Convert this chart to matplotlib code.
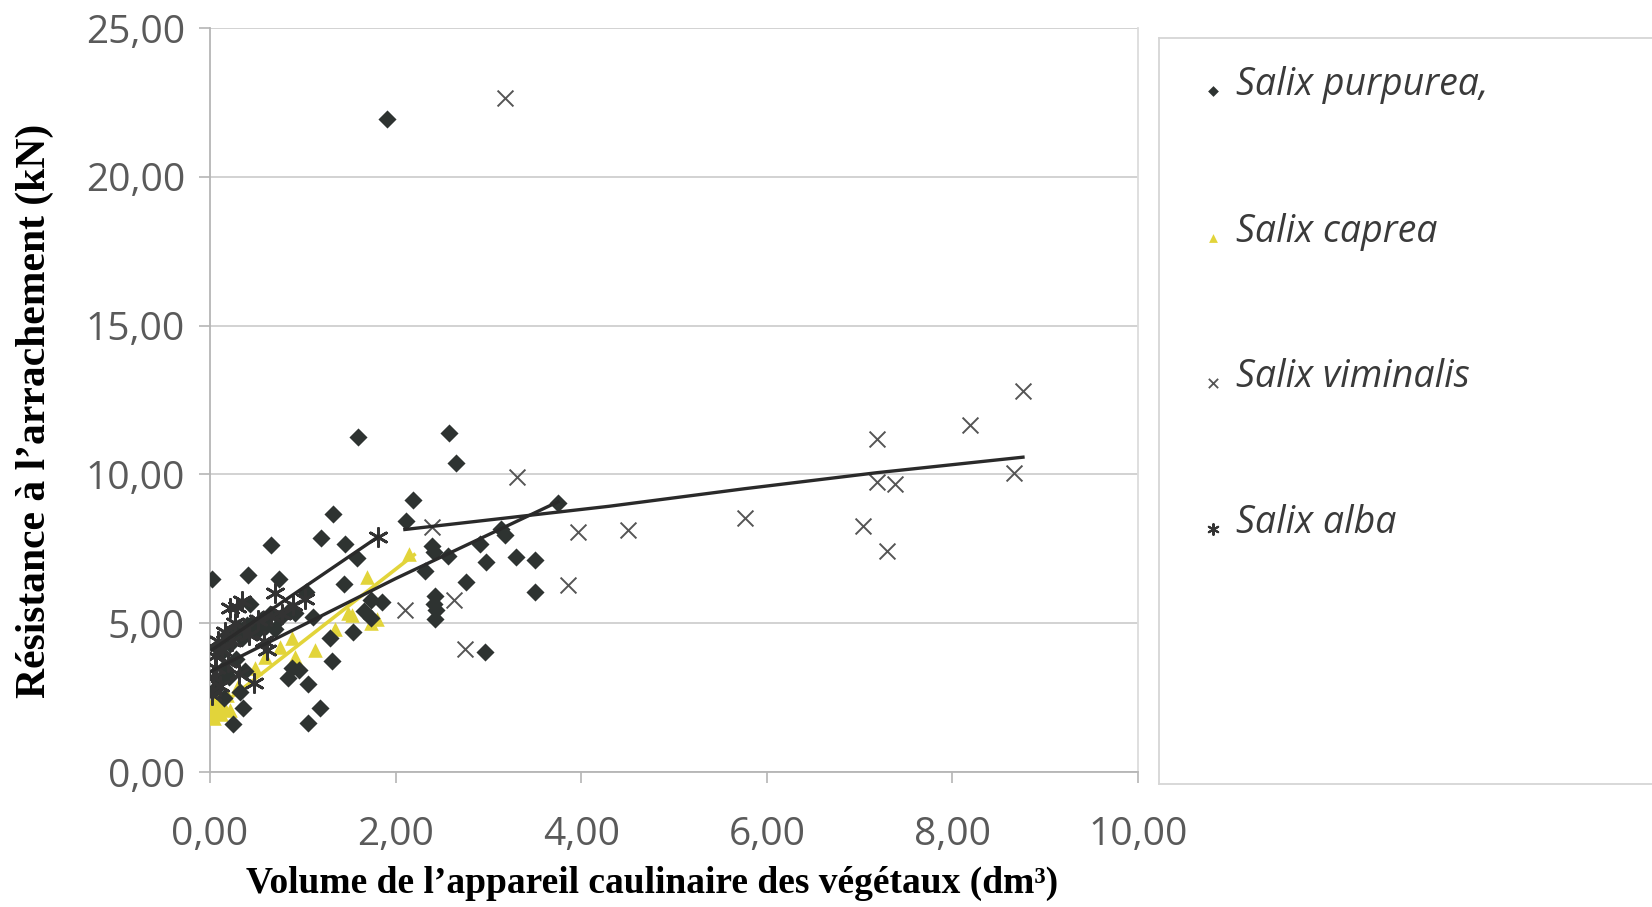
import matplotlib
matplotlib.use("Agg")
import matplotlib.pyplot as plt

# --- data ---
purpurea_x = [0.02, 0.41, 0.74, 0.66, 1.20, 1.33, 1.45, 1.60, 1.91, 2.19, 2.11, 2.58, 2.65, 3.75,
              2.39, 2.41, 2.57, 2.32, 3.14, 3.18, 2.91, 2.97, 3.30, 3.50, 3.50, 2.76, 2.42, 2.41,
              2.44, 2.42, 2.96, 1.58, 1.44, 1.04, 1.74, 1.85, 1.66, 1.74, 1.11, 1.54, 1.29, 1.31,
              0.43, 0.86, 0.92, 0.75, 0.88, 0.96, 0.84, 1.06, 1.19, 1.06, 0.36, 0.25,
              0.05, 0.10, 0.12, 0.15, 0.18, 0.20, 0.22, 0.26, 0.30, 0.32, 0.35, 0.40, 0.45, 0.50,
              0.55, 0.60, 0.65, 0.70, 0.15, 0.08, 0.28, 0.38]
purpurea_y = [6.50, 6.62, 6.50, 7.63, 7.88, 8.66, 7.65, 11.25, 21.95, 9.15, 8.42, 11.40, 10.38, 9.05,
              7.60, 7.38, 7.25, 6.75, 8.18, 7.97, 7.65, 7.05, 7.22, 7.12, 6.05, 6.38, 5.93, 5.66,
              5.44, 5.13, 4.05, 7.20, 6.32, 6.05, 5.77, 5.71, 5.40, 5.16, 5.22, 4.72, 4.50, 3.72,
              5.63, 5.45, 5.36, 5.19, 3.50, 3.42, 3.15, 2.95, 2.16, 1.66, 2.16, 1.62,
              2.80, 3.10, 4.00, 3.50, 4.60, 3.20, 4.30, 4.70, 4.85, 2.70, 4.50, 4.95, 5.00, 4.70,
              5.10, 4.90, 5.30, 4.80, 2.50, 4.20, 3.80, 3.40]

caprea_x = [0.00, 0.02, 0.04, 0.06, 0.08, 0.10, 0.12, 0.15, 0.18, 0.22, 0.30, 0.48, 0.59, 0.75,
            0.88, 0.92, 1.13, 1.35, 1.49, 1.53, 1.69, 1.74, 1.80, 2.14]
caprea_y = [1.90, 2.30, 1.80, 2.60, 2.05, 2.40, 1.95, 2.20, 2.60, 2.10, 2.90, 3.50, 3.85, 4.20,
            4.50, 3.85, 4.10, 4.80, 5.33, 5.27, 6.54, 5.00, 5.13, 7.31]

viminalis_x = [2.10, 2.39, 2.63, 2.75, 3.18, 3.31, 3.86, 3.97, 4.50, 5.76, 7.04, 7.19, 7.19,
               7.29, 7.38, 8.19, 8.66, 8.76]
viminalis_y = [5.46, 8.24, 5.77, 4.13, 22.65, 9.90, 6.27, 8.05, 8.12, 8.55, 8.27, 11.20, 9.74,
               7.42, 9.68, 11.65, 10.04, 12.80]

alba_x = [0.02, 0.03, 0.05, 0.07, 0.09, 0.11, 0.13, 0.16, 0.19, 0.22, 0.24, 0.27, 0.29, 0.31,
          0.34, 0.37, 0.42, 0.47, 0.52, 0.58, 0.61, 0.66, 0.70, 0.78, 0.90, 1.02, 1.81]
alba_y = [2.60, 3.20, 3.90, 3.50, 4.40, 2.90, 4.10, 4.70, 3.70, 5.50, 4.40, 5.00, 5.55, 3.30,
          5.75, 4.80, 4.60, 3.00, 5.10, 4.40, 4.10, 5.25, 6.00, 5.30, 5.60, 5.80, 7.90]

# trend lines as drawn in the source
trend_purpurea_x = [0.02, 2.00, 3.75]
trend_purpurea_y = [3.40, 6.50, 9.08]
trend_alba_x = [0.02, 1.81]
trend_alba_y = [4.10, 7.90]
trend_caprea_x = [0.00, 2.20]
trend_caprea_y = [1.95, 7.30]
trend_viminalis_x = [2.10, 4.30, 5.76, 7.19, 8.76]
trend_viminalis_y = [8.15, 8.93, 9.52, 10.06, 10.58]

species = ["Salix purpurea,", "Salix caprea", "Salix viminalis", "Salix alba"]
x_ticks = [0, 2, 4, 6, 8, 10]
y_ticks = [0, 5, 10, 15, 20, 25]

c_dark = "#2e3331"
c_yellow = "#e2d43a"
c_grey = "#555555"
c_star = "#333333"
star = (6, 2, 0)

fig = plt.figure(figsize=(16.52, 9.07), dpi=100)
ax = fig.add_axes([0.1271, 0.1488, 0.5618, 0.8203])

ax.plot(trend_caprea_x, trend_caprea_y, color=c_yellow, lw=2.6, zorder=2)
ax.scatter(caprea_x, caprea_y, marker="^", s=110, color=c_yellow, linewidths=0, zorder=3)
ax.scatter(purpurea_x, purpurea_y, marker="D", s=85, color=c_dark, linewidths=0, zorder=4)
ax.scatter(alba_x, alba_y, marker=star, s=170, color=c_star, linewidths=2.0, zorder=4)
ax.scatter(viminalis_x, viminalis_y, marker="x", s=130, color=c_grey, linewidths=1.4, zorder=4)
ax.plot(trend_purpurea_x, trend_purpurea_y, color="#2a2a2a", lw=2.4, zorder=5)
ax.plot(trend_alba_x, trend_alba_y, color="#2a2a2a", lw=2.4, zorder=5)
ax.plot(trend_viminalis_x, trend_viminalis_y, color="#2a2a2a", lw=2.4, zorder=5)

ax.set_xlim(0, 10)
ax.set_ylim(0, 25)
ax.set_xticks(x_ticks)
ax.set_yticks(y_ticks)
ax.set_xticklabels([("%.2f" % v).replace(".", ",") for v in x_ticks])
ax.set_yticklabels([("%.2f" % v).replace(".", ",") for v in y_ticks])
ax.grid(axis="y", color="#cfcfcf", lw=1.3)
ax.set_axisbelow(True)
ax.spines["top"].set_visible(False)
for side in ["left", "bottom"]:
    ax.spines[side].set_color("#b5b5b5")
    ax.spines[side].set_linewidth(1.3)
ax.spines["right"].set_color("#dcdcdc")
ax.spines["right"].set_linewidth(1.3)
ax.tick_params(axis="both", colors="#b5b5b5", length=8, width=1.2, labelcolor="#5a5a5a",
               labelsize=28)
ax.tick_params(axis="x", pad=24)
ax.tick_params(axis="y", pad=10)
for lab in ax.get_xticklabels() + ax.get_yticklabels():
    lab.set_family("Open Sans")

fig.text(0.395, 0.026, "Volume de l’appareil caulinaire des végétaux (dm³)",
         family="Liberation Serif", weight="bold", fontsize=27, ha="center", va="center")
fig.text(0.021, 0.547, "Résistance à l’arrachement (kN)", family="Liberation Serif",
         weight="bold", fontsize=30, rotation=90, ha="center", va="center")

# legend panel
lax = fig.add_axes([0.7016, 0.1356, 0.32, 0.823])
lax.set_xlim(0, 1)
lax.set_ylim(0, 1)
lax.set_xticks([])
lax.set_yticks([])
for side in lax.spines:
    lax.spines[side].set_color("#d6d6d6")
    lax.spines[side].set_linewidth(1.3)
rows = [0.937, 0.739, 0.545, 0.349]
styles = [dict(marker="D", s=30, color=c_dark, linewidths=0),
          dict(marker="^", s=40, color=c_yellow, linewidths=0),
          dict(marker="x", s=45, color=c_grey, linewidths=1.3),
          dict(marker=star, s=60, color=c_star, linewidths=1.5)]
for name, yy, st in zip(species, rows, styles):
    lax.scatter([0.103], [yy - 0.008], **st)
    lax.text(0.145, yy, name, family="Open Sans", style="italic", fontsize=27,
             color="#3a3a3a", ha="left", va="center")

fig.savefig("out.png", dpi=100)
